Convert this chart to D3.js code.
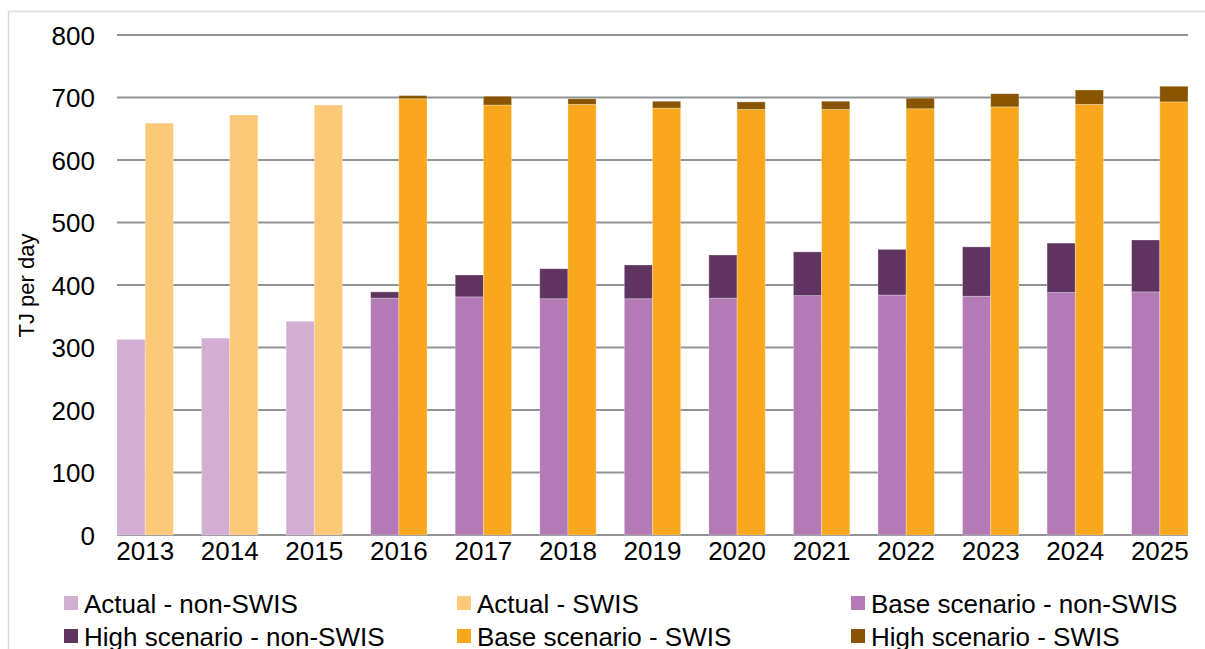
<!DOCTYPE html>
<html><head><meta charset="utf-8">
<script src="https://cdn.jsdelivr.net/npm/d3@7"></script>
<style>
html,body{margin:0;padding:0;background:#fff;}
svg{display:block;font-family:"Liberation Sans",Arial,sans-serif;}
</style></head>
<body>
<svg id="chart" width="1205" height="649"></svg>
<script>
const years = ["2013","2014","2015","2016","2017","2018","2019","2020","2021","2022","2023","2024","2025"];
const actualNonSwis = [313, 315, 342, null, null, null, null, null, null, null, null, null, null];
const actualSwis    = [659, 672, 688, null, null, null, null, null, null, null, null, null, null];
const baseNonSwis   = [null, null, null, 379, 381, 378, 378, 379, 383, 384, 382, 388, 389];
const highNonSwis   = [null, null, null, 389, 416, 426, 432, 448, 453, 457, 461, 467, 472];
const baseSwis      = [null, null, null, 698, 688, 689, 683, 681, 681, 682, 685, 689, 693];
const highSwis      = [null, null, null, 703, 702, 698, 694, 693, 694, 699, 706, 712, 718];
const yTicks = [0, 100, 200, 300, 400, 500, 600, 700, 800];
const legendLabels = ["Actual - non-SWIS","Actual - SWIS","Base scenario - non-SWIS",
                      "High scenario - non-SWIS","Base scenario - SWIS","High scenario - SWIS"];
const colors = {
  actualNon: "#d3aed3", actualSwis: "#fcc979", baseNon: "#b37ab5",
  highNon: "#5f3461", baseSwis: "#f9a81d", highSwis: "#8a5502"
};
const legendColors = [colors.actualNon, colors.actualSwis, colors.baseNon, colors.highNon, colors.baseSwis, colors.highSwis];

(function () {
const svg = d3.select("#chart");
const FONT = "Liberation Sans, Arial, sans-serif";
// outer frame
svg.append("rect").attr("x", 8.5).attr("y", 11.5).attr("width", 1205).attr("height", 700)
  .attr("fill", "none").attr("stroke", "#d9d9d9").attr("stroke-width", 1.5);

const pLeft = 117, pRight = 1188, pTop = 35, pBottom = 535;
const x = d3.scaleBand().domain(years).range([pLeft, pRight]).paddingInner(1/3).paddingOuter(0);
const xs = d3.scaleBand().domain(["non","swis"]).range([0, x.bandwidth()]);
const y = d3.scaleLinear().domain([0, 800]).range([pBottom, pTop]);

// gridlines
svg.append("g").selectAll("line").data(yTicks).join("line")
  .attr("x1", pLeft).attr("x2", pRight)
  .attr("y1", d => y(d)).attr("y2", d => y(d))
  .attr("stroke", "#8f9396").attr("stroke-width", 2);

// y tick labels via axis
const yAxis = svg.append("g").attr("transform", `translate(${pLeft},0)`)
  .call(d3.axisLeft(y).tickValues(yTicks).tickSize(0).tickPadding(22));
yAxis.select(".domain").remove();
yAxis.selectAll("text").attr("font-size", 26).attr("fill", "#000").attr("font-family", FONT)
  .attr("dy", "0.36em");

// x axis labels
const xAxis = svg.append("g").attr("transform", `translate(0,${pBottom})`)
  .call(d3.axisBottom(x).tickSize(0).tickPadding(7));
xAxis.select(".domain").remove();
xAxis.selectAll("text").attr("font-size", 26).attr("fill", "#000").attr("font-family", FONT);

// y label
svg.append("text").attr("transform", "translate(34,285.5) rotate(-90)")
  .attr("text-anchor", "middle").attr("font-size", 22).attr("fill", "#000")
  .attr("font-family", FONT).text("TJ per day");

const bars = svg.append("g");
function drawSeries(lowArr, highArr, sub, color) {
  const data = years.map((yr, i) => ({yr, lo: lowArr ? lowArr[i] : 0, hi: highArr[i]}))
    .filter(d => d.hi != null && d.lo != null);
  bars.append("g").selectAll("rect").data(data).join("rect")
    .attr("x", d => x(d.yr) + xs(sub))
    .attr("width", xs.bandwidth())
    .attr("y", d => y(d.hi))
    .attr("height", d => y(d.lo) - y(d.hi))
    .attr("fill", color)
    .attr("stroke", "#ffffff").attr("stroke-opacity", 0.35).attr("stroke-width", 0.8);
}
drawSeries(null, actualNonSwis, "non", colors.actualNon);
drawSeries(null, actualSwis, "swis", colors.actualSwis);
drawSeries(null, baseNonSwis, "non", colors.baseNon);
drawSeries(baseNonSwis, highNonSwis, "non", colors.highNon);
drawSeries(null, baseSwis, "swis", colors.baseSwis);
drawSeries(baseSwis, highSwis, "swis", colors.highSwis);

// legend
const colX = [64, 457, 851];
const rowY = [603, 636];
const leg = svg.append("g");
legendLabels.forEach((lab, i) => {
  const c = i % 3, r = Math.floor(i / 3);
  leg.append("rect").attr("x", colX[c]).attr("y", rowY[r] - 7).attr("width", 14).attr("height", 14)
    .attr("fill", legendColors[i]);
  leg.append("text").attr("x", colX[c] + 20).attr("y", rowY[r] + 9.5)
    .attr("font-size", 26).attr("fill", "#000").attr("font-family", FONT).text(lab);
});
})();
</script>
</body></html>
